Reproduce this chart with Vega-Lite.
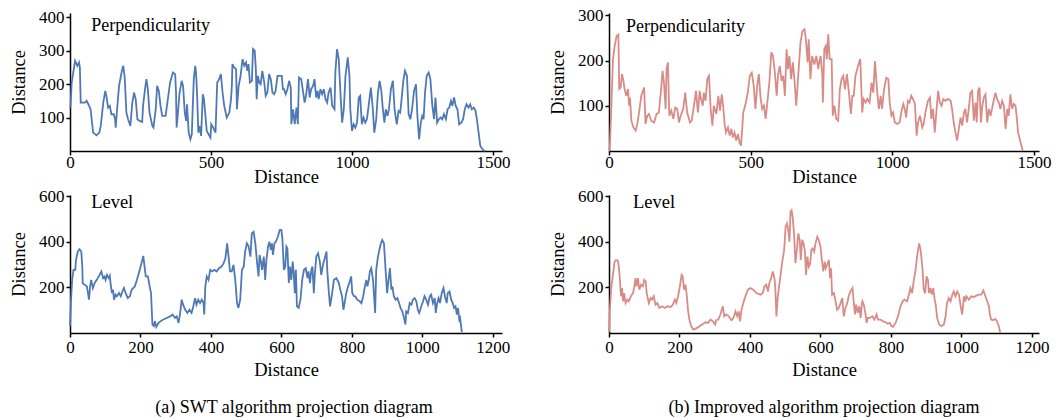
{
"$schema":"https://vega.github.io/schema/vega-lite/v6.json",
"background":"white",
"padding":{"left":9,"top":6,"right":5,"bottom":5},
"bounds":"flush",
"columns":2,
"spacing":{"row":44,"column":107},
"config":{
 "view":{"stroke":null},
 "axis":{"domainColor":"black","domainWidth":1.5,"tickColor":"black","tickWidth":1.5,"tickSize":4,"grid":false,"labelFont":"Liberation Serif","labelFontSize":17,"labelColor":"black","titleFont":"Liberation Serif","titleFontSize":18.5,"titleFontWeight":"normal","titleColor":"black","labelPadding":2,"titlePadding":2,"labelFlush":false,"labelOverlap":false,"format":"d"},
 "axisY":{"titlePadding":10},
 "title":{"font":"Liberation Serif","fontSize":18,"fontWeight":"normal","color":"black"}
},
"datasets":{
"p1":[{"x":0,"y":130},{"x":2,"y":135},{"x":6,"y":205},{"x":18,"y":270},{"x":26,"y":255},{"x":32,"y":265},{"x":35,"y":250},{"x":38,"y":145},{"x":53,"y":145},{"x":59,"y":150},{"x":65,"y":140},{"x":73,"y":125},{"x":82,"y":55},{"x":94,"y":47},{"x":104,"y":55},{"x":109,"y":75},{"x":118,"y":145},{"x":125,"y":180},{"x":129,"y":165},{"x":135,"y":130},{"x":141,"y":135},{"x":147,"y":110},{"x":155,"y":110},{"x":160,"y":95},{"x":162,"y":70},{"x":167,"y":125},{"x":174,"y":195},{"x":184,"y":240},{"x":189,"y":255},{"x":194,"y":220},{"x":200,"y":115},{"x":206,"y":95},{"x":214,"y":75},{"x":221,"y":145},{"x":227,"y":175},{"x":233,"y":155},{"x":239,"y":95},{"x":247,"y":90},{"x":256,"y":87},{"x":259,"y":135},{"x":266,"y":185},{"x":271,"y":215},{"x":276,"y":185},{"x":282,"y":115},{"x":292,"y":75},{"x":296,"y":70},{"x":304,"y":125},{"x":309,"y":195},{"x":315,"y":180},{"x":321,"y":135},{"x":327,"y":105},{"x":339,"y":105},{"x":347,"y":155},{"x":355,"y":205},{"x":365,"y":235},{"x":373,"y":230},{"x":376,"y":175},{"x":378,"y":70},{"x":381,"y":95},{"x":388,"y":170},{"x":396,"y":210},{"x":401,"y":195},{"x":407,"y":115},{"x":412,"y":90},{"x":415,"y":140},{"x":421,"y":55},{"x":427,"y":35},{"x":432,"y":50},{"x":435,"y":125},{"x":439,"y":215},{"x":444,"y":255},{"x":447,"y":235},{"x":451,"y":165},{"x":455,"y":55},{"x":459,"y":75},{"x":465,"y":45},{"x":471,"y":170},{"x":475,"y":155},{"x":485,"y":60},{"x":498,"y":40},{"x":501,"y":80},{"x":508,"y":70},{"x":516,"y":55},{"x":522,"y":205},{"x":529,"y":215},{"x":535,"y":230},{"x":541,"y":175},{"x":547,"y":135},{"x":556,"y":100},{"x":565,"y":115},{"x":571,"y":155},{"x":574,"y":195},{"x":576,"y":260},{"x":582,"y":250},{"x":589,"y":245},{"x":592,"y":125},{"x":598,"y":195},{"x":604,"y":220},{"x":612,"y":275},{"x":618,"y":255},{"x":624,"y":265},{"x":629,"y":240},{"x":633,"y":260},{"x":638,"y":205},{"x":645,"y":210},{"x":649,"y":305},{"x":655,"y":300},{"x":659,"y":245},{"x":662,"y":155},{"x":666,"y":225},{"x":671,"y":205},{"x":676,"y":200},{"x":682,"y":240},{"x":689,"y":205},{"x":694,"y":165},{"x":700,"y":175},{"x":706,"y":230},{"x":712,"y":215},{"x":718,"y":175},{"x":724,"y":170},{"x":729,"y":180},{"x":736,"y":225},{"x":751,"y":225},{"x":755,"y":185},{"x":759,"y":185},{"x":765,"y":170},{"x":771,"y":185},{"x":777,"y":210},{"x":783,"y":190},{"x":785,"y":80},{"x":791,"y":125},{"x":797,"y":80},{"x":803,"y":130},{"x":808,"y":80},{"x":812,"y":220},{"x":820,"y":215},{"x":827,"y":175},{"x":832,"y":145},{"x":837,"y":165},{"x":844,"y":215},{"x":850,"y":160},{"x":855,"y":185},{"x":862,"y":195},{"x":867,"y":215},{"x":873,"y":160},{"x":878,"y":180},{"x":882,"y":155},{"x":888,"y":185},{"x":894,"y":170},{"x":900,"y":185},{"x":906,"y":155},{"x":912,"y":145},{"x":917,"y":175},{"x":924,"y":190},{"x":930,"y":135},{"x":938,"y":125},{"x":941,"y":235},{"x":947,"y":305},{"x":953,"y":275},{"x":959,"y":175},{"x":965,"y":85},{"x":971,"y":125},{"x":977,"y":225},{"x":985,"y":280},{"x":991,"y":225},{"x":994,"y":125},{"x":1000,"y":60},{"x":1006,"y":80},{"x":1012,"y":70},{"x":1018,"y":85},{"x":1024,"y":160},{"x":1029,"y":165},{"x":1035,"y":80},{"x":1041,"y":100},{"x":1047,"y":85},{"x":1053,"y":95},{"x":1059,"y":135},{"x":1067,"y":190},{"x":1074,"y":125},{"x":1079,"y":55},{"x":1086,"y":95},{"x":1092,"y":175},{"x":1098,"y":210},{"x":1104,"y":180},{"x":1109,"y":130},{"x":1115,"y":85},{"x":1120,"y":125},{"x":1126,"y":105},{"x":1131,"y":125},{"x":1138,"y":185},{"x":1145,"y":210},{"x":1151,"y":125},{"x":1159,"y":80},{"x":1165,"y":120},{"x":1171,"y":115},{"x":1176,"y":155},{"x":1182,"y":210},{"x":1188,"y":240},{"x":1195,"y":225},{"x":1201,"y":110},{"x":1207,"y":95},{"x":1213,"y":125},{"x":1220,"y":180},{"x":1227,"y":200},{"x":1232,"y":105},{"x":1238,"y":35},{"x":1244,"y":85},{"x":1249,"y":105},{"x":1254,"y":95},{"x":1259,"y":175},{"x":1265,"y":225},{"x":1272,"y":235},{"x":1278,"y":215},{"x":1285,"y":135},{"x":1291,"y":95},{"x":1296,"y":160},{"x":1302,"y":85},{"x":1308,"y":95},{"x":1314,"y":100},{"x":1320,"y":95},{"x":1326,"y":110},{"x":1333,"y":95},{"x":1339,"y":125},{"x":1345,"y":130},{"x":1351,"y":150},{"x":1356,"y":135},{"x":1362,"y":160},{"x":1368,"y":135},{"x":1374,"y":125},{"x":1380,"y":80},{"x":1388,"y":85},{"x":1394,"y":95},{"x":1400,"y":125},{"x":1406,"y":140},{"x":1413,"y":130},{"x":1419,"y":140},{"x":1425,"y":125},{"x":1432,"y":130},{"x":1438,"y":120},{"x":1443,"y":95},{"x":1449,"y":55},{"x":1455,"y":15},{"x":1465,"y":3},{"x":1473,"y":0}],
"p2":[{"x":0,"y":0},{"x":3,"y":10},{"x":8,"y":93},{"x":14,"y":203},{"x":20,"y":232},{"x":27,"y":254},{"x":33,"y":257},{"x":35,"y":188},{"x":36,"y":137},{"x":41,"y":140},{"x":46,"y":170},{"x":51,"y":155},{"x":55,"y":137},{"x":61,"y":122},{"x":67,"y":137},{"x":71,"y":100},{"x":74,"y":118},{"x":79,"y":67},{"x":86,"y":52},{"x":94,"y":45},{"x":100,"y":60},{"x":106,"y":85},{"x":114,"y":122},{"x":124,"y":140},{"x":129,"y":60},{"x":135,"y":78},{"x":141,"y":82},{"x":149,"y":67},{"x":159,"y":63},{"x":168,"y":82},{"x":176,"y":85},{"x":185,"y":144},{"x":189,"y":177},{"x":194,"y":151},{"x":200,"y":93},{"x":203,"y":181},{"x":208,"y":196},{"x":213,"y":78},{"x":220,"y":89},{"x":227,"y":71},{"x":234,"y":96},{"x":241,"y":93},{"x":247,"y":63},{"x":253,"y":78},{"x":262,"y":93},{"x":269,"y":129},{"x":276,"y":85},{"x":286,"y":63},{"x":292,"y":67},{"x":300,"y":100},{"x":307,"y":133},{"x":314,"y":85},{"x":320,"y":133},{"x":324,"y":118},{"x":331,"y":100},{"x":335,"y":129},{"x":341,"y":111},{"x":347,"y":159},{"x":353,"y":166},{"x":359,"y":93},{"x":365,"y":56},{"x":370,"y":100},{"x":379,"y":82},{"x":386,"y":122},{"x":392,"y":89},{"x":398,"y":125},{"x":403,"y":100},{"x":408,"y":60},{"x":413,"y":41},{"x":420,"y":52},{"x":426,"y":34},{"x":432,"y":49},{"x":437,"y":30},{"x":443,"y":41},{"x":449,"y":23},{"x":455,"y":37},{"x":461,"y":19},{"x":466,"y":12},{"x":469,"y":37},{"x":474,"y":85},{"x":482,"y":104},{"x":490,"y":129},{"x":497,"y":166},{"x":504,"y":173},{"x":511,"y":144},{"x":517,"y":93},{"x":523,"y":144},{"x":529,"y":170},{"x":535,"y":118},{"x":541,"y":93},{"x":547,"y":100},{"x":553,"y":71},{"x":559,"y":107},{"x":566,"y":151},{"x":573,"y":218},{"x":579,"y":210},{"x":585,"y":177},{"x":592,"y":122},{"x":597,"y":170},{"x":603,"y":188},{"x":609,"y":155},{"x":615,"y":166},{"x":621,"y":122},{"x":627,"y":225},{"x":632,"y":181},{"x":637,"y":210},{"x":643,"y":159},{"x":649,"y":196},{"x":655,"y":155},{"x":661,"y":100},{"x":668,"y":166},{"x":676,"y":240},{"x":683,"y":265},{"x":690,"y":269},{"x":695,"y":247},{"x":701,"y":196},{"x":705,"y":247},{"x":711,"y":159},{"x":717,"y":210},{"x":725,"y":191},{"x":732,"y":210},{"x":739,"y":181},{"x":741,"y":192},{"x":747,"y":210},{"x":753,"y":170},{"x":755,"y":107},{"x":760,"y":225},{"x":765,"y":232},{"x":769,"y":203},{"x":774,"y":258},{"x":779,"y":203},{"x":786,"y":203},{"x":790,"y":78},{"x":796,"y":100},{"x":802,"y":71},{"x":809,"y":67},{"x":815,"y":137},{"x":821,"y":159},{"x":827,"y":166},{"x":833,"y":137},{"x":840,"y":170},{"x":847,"y":129},{"x":854,"y":82},{"x":859,"y":122},{"x":864,"y":122},{"x":870,"y":166},{"x":879,"y":188},{"x":887,"y":203},{"x":894,"y":85},{"x":899,"y":115},{"x":906,"y":107},{"x":912,"y":115},{"x":920,"y":107},{"x":927,"y":151},{"x":933,"y":129},{"x":939,"y":199},{"x":943,"y":162},{"x":948,"y":122},{"x":953,"y":93},{"x":959,"y":122},{"x":964,"y":93},{"x":971,"y":137},{"x":979,"y":162},{"x":986,"y":159},{"x":991,"y":107},{"x":997,"y":78},{"x":1003,"y":85},{"x":1009,"y":63},{"x":1017,"y":60},{"x":1026,"y":63},{"x":1033,"y":89},{"x":1039,"y":104},{"x":1044,"y":93},{"x":1049,"y":74},{"x":1055,"y":111},{"x":1061,"y":107},{"x":1067,"y":122},{"x":1073,"y":115},{"x":1080,"y":104},{"x":1086,"y":34},{"x":1091,"y":63},{"x":1098,"y":78},{"x":1106,"y":52},{"x":1111,"y":60},{"x":1117,"y":85},{"x":1126,"y":111},{"x":1133,"y":118},{"x":1138,"y":71},{"x":1144,"y":93},{"x":1150,"y":41},{"x":1156,"y":89},{"x":1162,"y":133},{"x":1168,"y":107},{"x":1174,"y":100},{"x":1180,"y":115},{"x":1188,"y":111},{"x":1197,"y":115},{"x":1206,"y":111},{"x":1211,"y":93},{"x":1217,"y":63},{"x":1223,"y":41},{"x":1229,"y":23},{"x":1235,"y":49},{"x":1241,"y":74},{"x":1247,"y":56},{"x":1253,"y":85},{"x":1258,"y":93},{"x":1264,"y":63},{"x":1270,"y":93},{"x":1276,"y":129},{"x":1282,"y":133},{"x":1288,"y":67},{"x":1294,"y":107},{"x":1298,"y":63},{"x":1303,"y":133},{"x":1308,"y":140},{"x":1313,"y":63},{"x":1317,"y":96},{"x":1323,"y":118},{"x":1329,"y":125},{"x":1335,"y":63},{"x":1341,"y":93},{"x":1347,"y":78},{"x":1353,"y":96},{"x":1358,"y":111},{"x":1364,"y":129},{"x":1370,"y":115},{"x":1376,"y":107},{"x":1382,"y":93},{"x":1388,"y":111},{"x":1394,"y":100},{"x":1400,"y":49},{"x":1406,"y":93},{"x":1411,"y":78},{"x":1417,"y":125},{"x":1423,"y":93},{"x":1429,"y":104},{"x":1435,"y":100},{"x":1440,"y":71},{"x":1444,"y":41},{"x":1453,"y":19},{"x":1461,"y":0}],
"p3":[{"x":0,"y":30},{"x":3,"y":146},{"x":6,"y":233},{"x":10,"y":277},{"x":15,"y":277},{"x":17,"y":320},{"x":22,"y":357},{"x":27,"y":367},{"x":32,"y":357},{"x":35,"y":291},{"x":36,"y":219},{"x":41,"y":212},{"x":48,"y":204},{"x":54,"y":146},{"x":57,"y":204},{"x":60,"y":233},{"x":65,"y":197},{"x":70,"y":219},{"x":76,"y":233},{"x":84,"y":255},{"x":89,"y":270},{"x":94,"y":241},{"x":98,"y":248},{"x":101,"y":233},{"x":105,"y":255},{"x":110,"y":241},{"x":113,"y":251},{"x":115,"y":219},{"x":119,"y":175},{"x":122,"y":190},{"x":125,"y":146},{"x":129,"y":168},{"x":133,"y":161},{"x":139,"y":175},{"x":144,"y":161},{"x":149,"y":183},{"x":153,"y":197},{"x":158,"y":175},{"x":164,"y":153},{"x":170,"y":161},{"x":175,"y":190},{"x":184,"y":204},{"x":190,"y":233},{"x":198,"y":277},{"x":204,"y":313},{"x":208,"y":338},{"x":211,"y":299},{"x":215,"y":248},{"x":221,"y":248},{"x":227,"y":197},{"x":230,"y":175},{"x":232,"y":102},{"x":234,"y":37},{"x":238,"y":30},{"x":241,"y":52},{"x":245,"y":27},{"x":251,"y":44},{"x":257,"y":52},{"x":265,"y":59},{"x":274,"y":66},{"x":284,"y":73},{"x":291,"y":81},{"x":298,"y":66},{"x":303,"y":73},{"x":308,"y":44},{"x":312,"y":81},{"x":317,"y":146},{"x":321,"y":124},{"x":327,"y":102},{"x":333,"y":88},{"x":339,"y":102},{"x":345,"y":88},{"x":350,"y":117},{"x":355,"y":153},{"x":359,"y":124},{"x":364,"y":146},{"x":369,"y":131},{"x":374,"y":146},{"x":379,"y":131},{"x":381,"y":81},{"x":384,"y":204},{"x":388,"y":248},{"x":393,"y":233},{"x":398,"y":277},{"x":404,"y":270},{"x":410,"y":277},{"x":416,"y":270},{"x":423,"y":284},{"x":430,"y":291},{"x":436,"y":306},{"x":441,"y":328},{"x":446,"y":393},{"x":450,"y":335},{"x":454,"y":270},{"x":459,"y":270},{"x":464,"y":299},{"x":469,"y":233},{"x":474,"y":131},{"x":478,"y":110},{"x":483,"y":146},{"x":488,"y":277},{"x":493,"y":291},{"x":497,"y":357},{"x":502,"y":393},{"x":507,"y":379},{"x":512,"y":335},{"x":516,"y":437},{"x":521,"y":444},{"x":526,"y":393},{"x":531,"y":306},{"x":535,"y":248},{"x":538,"y":342},{"x":542,"y":313},{"x":545,"y":277},{"x":550,"y":335},{"x":554,"y":233},{"x":557,"y":313},{"x":562,"y":379},{"x":566,"y":400},{"x":570,"y":364},{"x":573,"y":393},{"x":576,"y":342},{"x":580,"y":393},{"x":584,"y":400},{"x":590,"y":422},{"x":595,"y":451},{"x":600,"y":452},{"x":603,"y":408},{"x":607,"y":277},{"x":611,"y":291},{"x":614,"y":379},{"x":617,"y":371},{"x":621,"y":219},{"x":624,"y":291},{"x":628,"y":233},{"x":632,"y":313},{"x":635,"y":262},{"x":638,"y":175},{"x":641,"y":277},{"x":644,"y":117},{"x":649,"y":110},{"x":654,"y":146},{"x":659,"y":233},{"x":664,"y":277},{"x":669,"y":284},{"x":674,"y":241},{"x":677,"y":270},{"x":681,"y":219},{"x":685,"y":277},{"x":688,"y":291},{"x":692,"y":175},{"x":695,"y":262},{"x":699,"y":335},{"x":704,"y":349},{"x":709,"y":313},{"x":713,"y":255},{"x":718,"y":299},{"x":723,"y":328},{"x":728,"y":357},{"x":730,"y":277},{"x":734,"y":190},{"x":738,"y":117},{"x":744,"y":175},{"x":749,"y":233},{"x":756,"y":241},{"x":763,"y":219},{"x":767,"y":190},{"x":772,"y":161},{"x":776,"y":102},{"x":780,"y":139},{"x":784,"y":175},{"x":789,"y":204},{"x":794,"y":226},{"x":798,"y":248},{"x":801,"y":175},{"x":806,"y":161},{"x":810,"y":161},{"x":815,"y":146},{"x":822,"y":139},{"x":827,"y":131},{"x":832,"y":161},{"x":836,"y":197},{"x":841,"y":233},{"x":844,"y":204},{"x":848,"y":233},{"x":851,"y":270},{"x":855,"y":284},{"x":860,"y":233},{"x":863,"y":161},{"x":866,"y":88},{"x":869,"y":277},{"x":874,"y":335},{"x":881,"y":386},{"x":886,"y":408},{"x":891,"y":393},{"x":895,"y":291},{"x":900,"y":175},{"x":904,"y":233},{"x":908,"y":284},{"x":912,"y":190},{"x":915,"y":204},{"x":919,"y":161},{"x":924,"y":146},{"x":929,"y":153},{"x":934,"y":131},{"x":938,"y":110},{"x":943,"y":95},{"x":948,"y":66},{"x":952,"y":37},{"x":954,"y":95},{"x":959,"y":88},{"x":964,"y":131},{"x":969,"y":124},{"x":973,"y":146},{"x":978,"y":153},{"x":983,"y":139},{"x":987,"y":102},{"x":991,"y":88},{"x":997,"y":117},{"x":1002,"y":139},{"x":1006,"y":161},{"x":1011,"y":146},{"x":1016,"y":124},{"x":1021,"y":161},{"x":1025,"y":168},{"x":1030,"y":131},{"x":1035,"y":153},{"x":1038,"y":88},{"x":1042,"y":131},{"x":1046,"y":153},{"x":1050,"y":131},{"x":1055,"y":175},{"x":1060,"y":197},{"x":1064,"y":161},{"x":1069,"y":131},{"x":1072,"y":175},{"x":1077,"y":182},{"x":1082,"y":146},{"x":1086,"y":131},{"x":1090,"y":110},{"x":1094,"y":117},{"x":1098,"y":81},{"x":1101,"y":110},{"x":1105,"y":59},{"x":1107,"y":66},{"x":1110,"y":30},{"x":1112,"y":4}],
"p4":[{"x":0,"y":4},{"x":2,"y":88},{"x":6,"y":190},{"x":11,"y":255},{"x":16,"y":313},{"x":20,"y":320},{"x":25,"y":317},{"x":28,"y":291},{"x":31,"y":233},{"x":34,"y":161},{"x":37,"y":197},{"x":40,"y":139},{"x":43,"y":175},{"x":47,"y":131},{"x":52,"y":146},{"x":56,"y":139},{"x":62,"y":161},{"x":68,"y":175},{"x":72,"y":204},{"x":75,"y":241},{"x":78,"y":204},{"x":82,"y":241},{"x":86,"y":190},{"x":91,"y":212},{"x":96,"y":204},{"x":100,"y":233},{"x":104,"y":226},{"x":107,"y":175},{"x":113,"y":131},{"x":118,"y":153},{"x":122,"y":146},{"x":127,"y":161},{"x":132,"y":124},{"x":137,"y":131},{"x":143,"y":110},{"x":151,"y":117},{"x":158,"y":110},{"x":166,"y":117},{"x":175,"y":114},{"x":181,"y":124},{"x":187,"y":146},{"x":191,"y":131},{"x":196,"y":161},{"x":201,"y":204},{"x":206,"y":255},{"x":209,"y":248},{"x":213,"y":190},{"x":217,"y":212},{"x":221,"y":161},{"x":224,"y":102},{"x":228,"y":59},{"x":233,"y":30},{"x":239,"y":15},{"x":245,"y":18},{"x":255,"y":27},{"x":264,"y":37},{"x":274,"y":47},{"x":281,"y":44},{"x":288,"y":59},{"x":295,"y":51},{"x":301,"y":37},{"x":304,"y":56},{"x":310,"y":59},{"x":316,"y":81},{"x":323,"y":117},{"x":327,"y":73},{"x":332,"y":81},{"x":340,"y":73},{"x":347,"y":56},{"x":353,"y":66},{"x":359,"y":95},{"x":364,"y":73},{"x":368,"y":95},{"x":372,"y":51},{"x":376,"y":102},{"x":381,"y":131},{"x":387,"y":161},{"x":394,"y":190},{"x":401,"y":197},{"x":409,"y":190},{"x":418,"y":175},{"x":430,"y":168},{"x":436,"y":175},{"x":441,"y":204},{"x":446,"y":212},{"x":451,"y":182},{"x":455,"y":219},{"x":460,"y":241},{"x":465,"y":270},{"x":468,"y":248},{"x":470,"y":233},{"x":472,"y":190},{"x":475,"y":73},{"x":479,"y":161},{"x":485,"y":233},{"x":491,"y":306},{"x":497,"y":364},{"x":501,"y":466},{"x":505,"y":480},{"x":510,"y":437},{"x":512,"y":400},{"x":515,"y":531},{"x":518,"y":538},{"x":521,"y":510},{"x":525,"y":437},{"x":529,"y":306},{"x":533,"y":364},{"x":537,"y":437},{"x":541,"y":408},{"x":544,"y":320},{"x":548,"y":408},{"x":552,"y":393},{"x":556,"y":357},{"x":559,"y":255},{"x":563,"y":335},{"x":567,"y":291},{"x":571,"y":306},{"x":574,"y":364},{"x":578,"y":371},{"x":582,"y":357},{"x":586,"y":393},{"x":591,"y":422},{"x":595,"y":408},{"x":600,"y":379},{"x":604,"y":320},{"x":608,"y":270},{"x":612,"y":313},{"x":615,"y":284},{"x":619,"y":299},{"x":624,"y":320},{"x":627,"y":241},{"x":630,"y":284},{"x":633,"y":168},{"x":638,"y":175},{"x":643,"y":139},{"x":647,"y":102},{"x":652,"y":110},{"x":657,"y":131},{"x":662,"y":153},{"x":666,"y":73},{"x":671,"y":110},{"x":676,"y":131},{"x":680,"y":161},{"x":685,"y":182},{"x":691,"y":197},{"x":695,"y":124},{"x":698,"y":81},{"x":701,"y":124},{"x":706,"y":88},{"x":710,"y":117},{"x":714,"y":66},{"x":717,"y":124},{"x":719,"y":139},{"x":723,"y":124},{"x":728,"y":81},{"x":731,"y":44},{"x":734,"y":66},{"x":740,"y":66},{"x":747,"y":73},{"x":753,"y":59},{"x":759,"y":81},{"x":763,"y":59},{"x":770,"y":59},{"x":778,"y":51},{"x":785,"y":47},{"x":791,"y":41},{"x":797,"y":44},{"x":801,"y":30},{"x":806,"y":27},{"x":813,"y":44},{"x":820,"y":73},{"x":827,"y":117},{"x":833,"y":139},{"x":838,"y":146},{"x":846,"y":139},{"x":852,"y":175},{"x":855,"y":197},{"x":860,"y":175},{"x":865,"y":233},{"x":870,"y":277},{"x":874,"y":335},{"x":880,"y":393},{"x":884,"y":364},{"x":889,"y":291},{"x":893,"y":190},{"x":897,"y":175},{"x":901,"y":248},{"x":905,"y":233},{"x":908,"y":175},{"x":912,"y":197},{"x":916,"y":168},{"x":920,"y":197},{"x":924,"y":146},{"x":927,"y":124},{"x":931,"y":66},{"x":937,"y":37},{"x":943,"y":30},{"x":950,"y":37},{"x":955,"y":73},{"x":959,"y":131},{"x":964,"y":153},{"x":969,"y":139},{"x":974,"y":168},{"x":978,"y":182},{"x":983,"y":161},{"x":988,"y":182},{"x":993,"y":168},{"x":997,"y":124},{"x":1002,"y":81},{"x":1007,"y":161},{"x":1011,"y":139},{"x":1014,"y":161},{"x":1021,"y":146},{"x":1028,"y":161},{"x":1035,"y":158},{"x":1042,"y":164},{"x":1049,"y":168},{"x":1056,"y":168},{"x":1062,"y":186},{"x":1068,"y":161},{"x":1073,"y":139},{"x":1078,"y":117},{"x":1080,"y":88},{"x":1084,"y":59},{"x":1090,"y":56},{"x":1096,"y":62},{"x":1101,"y":51},{"x":1106,"y":30},{"x":1110,"y":1}]
},
"concat":[
   {"width":432,"height":138,
    "layer":[
     {"data":{"name":"p1"},"mark":{"type":"line","color":"#4f79b5","strokeWidth":1.8},
      "encoding":{"x":{"field":"x","type":"quantitative","scale":{"domain":[0,1532],"nice":false,"zero":false},"axis":{"values":[0,500,1000,1500],"title":"Distance","labelPadding":-1,"titlePadding":-3}},
                  "y":{"field":"y","type":"quantitative","scale":{"domain":[0,413],"nice":false},"axis":{"values":[100,200,300,400],"title":"Distance"}}}},
     {"data":{"values":[{"label":"Perpendicularity"}]},"mark":{"type":"text","align":"left","baseline":"middle","font":"Liberation Serif","fontSize":18,"color":"black"},
      "encoding":{"x":{"datum":75,"type":"quantitative"},"y":{"datum":375,"type":"quantitative"},"text":{"field":"label"}}}
    ]},
   {"width":430,"height":138,
    "layer":[
     {"data":{"name":"p2"},"mark":{"type":"line","color":"#d98c87","strokeWidth":1.8},
      "encoding":{"x":{"field":"x","type":"quantitative","scale":{"domain":[0,1518],"nice":false,"zero":false},"axis":{"values":[0,500,1000,1500],"title":"Distance","labelPadding":-1,"titlePadding":-3}},
                  "y":{"field":"y","type":"quantitative","scale":{"domain":[0,305],"nice":false},"axis":{"values":[100,200,300],"title":"Distance"}}}},
     {"data":{"values":[{"label":"Perpendicularity"}]},"mark":{"type":"text","align":"left","baseline":"middle","font":"Liberation Serif","fontSize":18,"color":"black"},
      "encoding":{"x":{"datum":60,"type":"quantitative"},"y":{"datum":275,"type":"quantitative"},"text":{"field":"label"}}}
    ]},
   {"width":432,"height":138,
    "title":{"text":"(a) SWT algorithm projection diagram","orient":"bottom","anchor":"middle","offset":20,"dx":8},
    "layer":[
     {"data":{"name":"p3"},"mark":{"type":"line","color":"#4f79b5","strokeWidth":1.8},
      "encoding":{"x":{"field":"x","type":"quantitative","scale":{"domain":[0,1226],"nice":false,"zero":false},"axis":{"values":[0,200,400,600,800,1000,1200],"title":"Distance","titlePadding":5}},
                  "y":{"field":"y","type":"quantitative","scale":{"domain":[0,605],"nice":false},"axis":{"values":[200,400,600],"title":"Distance"}}}},
     {"data":{"values":[{"label":"Level"}]},"mark":{"type":"text","align":"left","baseline":"middle","font":"Liberation Serif","fontSize":18.5,"color":"black"},
      "encoding":{"x":{"datum":60,"type":"quantitative"},"y":{"datum":575,"type":"quantitative"},"text":{"field":"label"}}}
    ]},
   {"width":430,"height":138,
    "title":{"text":"(b) Improved algorithm projection diagram","orient":"bottom","anchor":"middle","offset":20},
    "layer":[
     {"data":{"name":"p4"},"mark":{"type":"line","color":"#d98c87","strokeWidth":1.8},
      "encoding":{"x":{"field":"x","type":"quantitative","scale":{"domain":[0,1220],"nice":false,"zero":false},"axis":{"values":[0,200,400,600,800,1000,1200],"title":"Distance","titlePadding":5}},
                  "y":{"field":"y","type":"quantitative","scale":{"domain":[0,605],"nice":false},"axis":{"values":[200,400,600],"title":"Distance"}}}},
     {"data":{"values":[{"label":"Level"}]},"mark":{"type":"text","align":"left","baseline":"middle","font":"Liberation Serif","fontSize":18.5,"color":"black"},
      "encoding":{"x":{"datum":68,"type":"quantitative"},"y":{"datum":575,"type":"quantitative"},"text":{"field":"label"}}}
    ]}
]
}
